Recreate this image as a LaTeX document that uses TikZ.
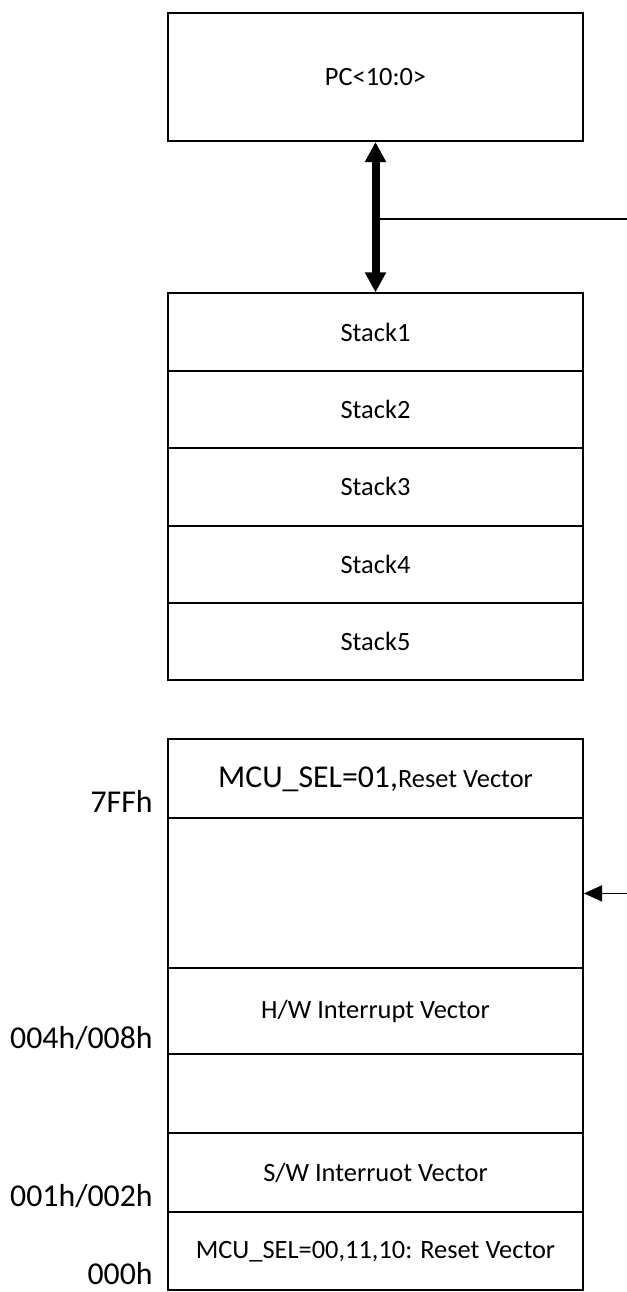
\documentclass[tikz,border=0pt]{standalone}
\usepackage{fontspec}
\setmainfont{Carlito}
\usetikzlibrary{calc,matrix,arrows.meta}

\newcommand\cellsize{\fontsize{13.2}{16}\selectfont}
\newcommand\addrsize{\fontsize{15.9}{19}\selectfont}

\begin{document}
\begin{tikzpicture}[x=0.5pt,y=-0.5pt,
    cell/.style={draw,line width=1pt,minimum width=207.5pt,inner sep=0pt,font=\cellsize},
    addr/.style={anchor=base east,inner sep=0pt,font=\addrsize},
    wire/.style={line width=0.8pt}]
    \useasboundingbox (0,0) rectangle (627,1292);

    \node[cell,minimum height=64pt] (pc) at (375.5,77) {PC<10:0>};

    \matrix [%
      matrix of nodes,
      nodes={cell,minimum height=38.7pt},
      row sep=-1pt,
      inner sep=0pt,
      anchor=north
    ] (stack) at (375.5,292) {%
      Stack1 \\
      Stack2 \\
      Stack3 \\
      Stack4 \\
      Stack5 \\
    };

    \matrix [%
      matrix of nodes,
      nodes in empty cells,
      nodes={cell},
      row sep=-1pt,
      inner sep=0pt,
      anchor=north
    ] (mem) at (375.5,738) {%
      |[minimum height=39.5pt]| {\addrsize MCU\_SEL=01,}Reset Vector \\
      |[minimum height=75pt]|   \\
      |[minimum height=43pt]|   H/W Interrupt Vector \\
      |[minimum height=39.5pt]| \\
      |[minimum height=39.5pt]| S/W Interruot Vector \\
      |[minimum height=39pt]|   MCU\_SEL=00,11,10: Reset Vector \\
    };

    \coordinate (bus)    at (375.5,219);
    \coordinate (busout) at (627,219);
    \coordinate (jmp)    at (mem-2-1.east -| busout);

    \path (pc)  edge[line width=4pt,{Triangle[width=10pt,length=10pt]}-{Triangle[width=10pt,length=10pt]}] (stack-1-1)
          (bus) edge[wire]                                   (busout)
          (jmp) edge[wire,-{Triangle[width=8pt,length=9pt]}] (mem-2-1.east);

    \foreach \r/\t in {1/7FFh,3/{004h/008h},5/{001h/002h},6/000h} {\node[addr] (addr-\r) at ($(mem-\r-1.south west)+(-14,-7)$) {\t};};
\end{tikzpicture}
\end{document}
